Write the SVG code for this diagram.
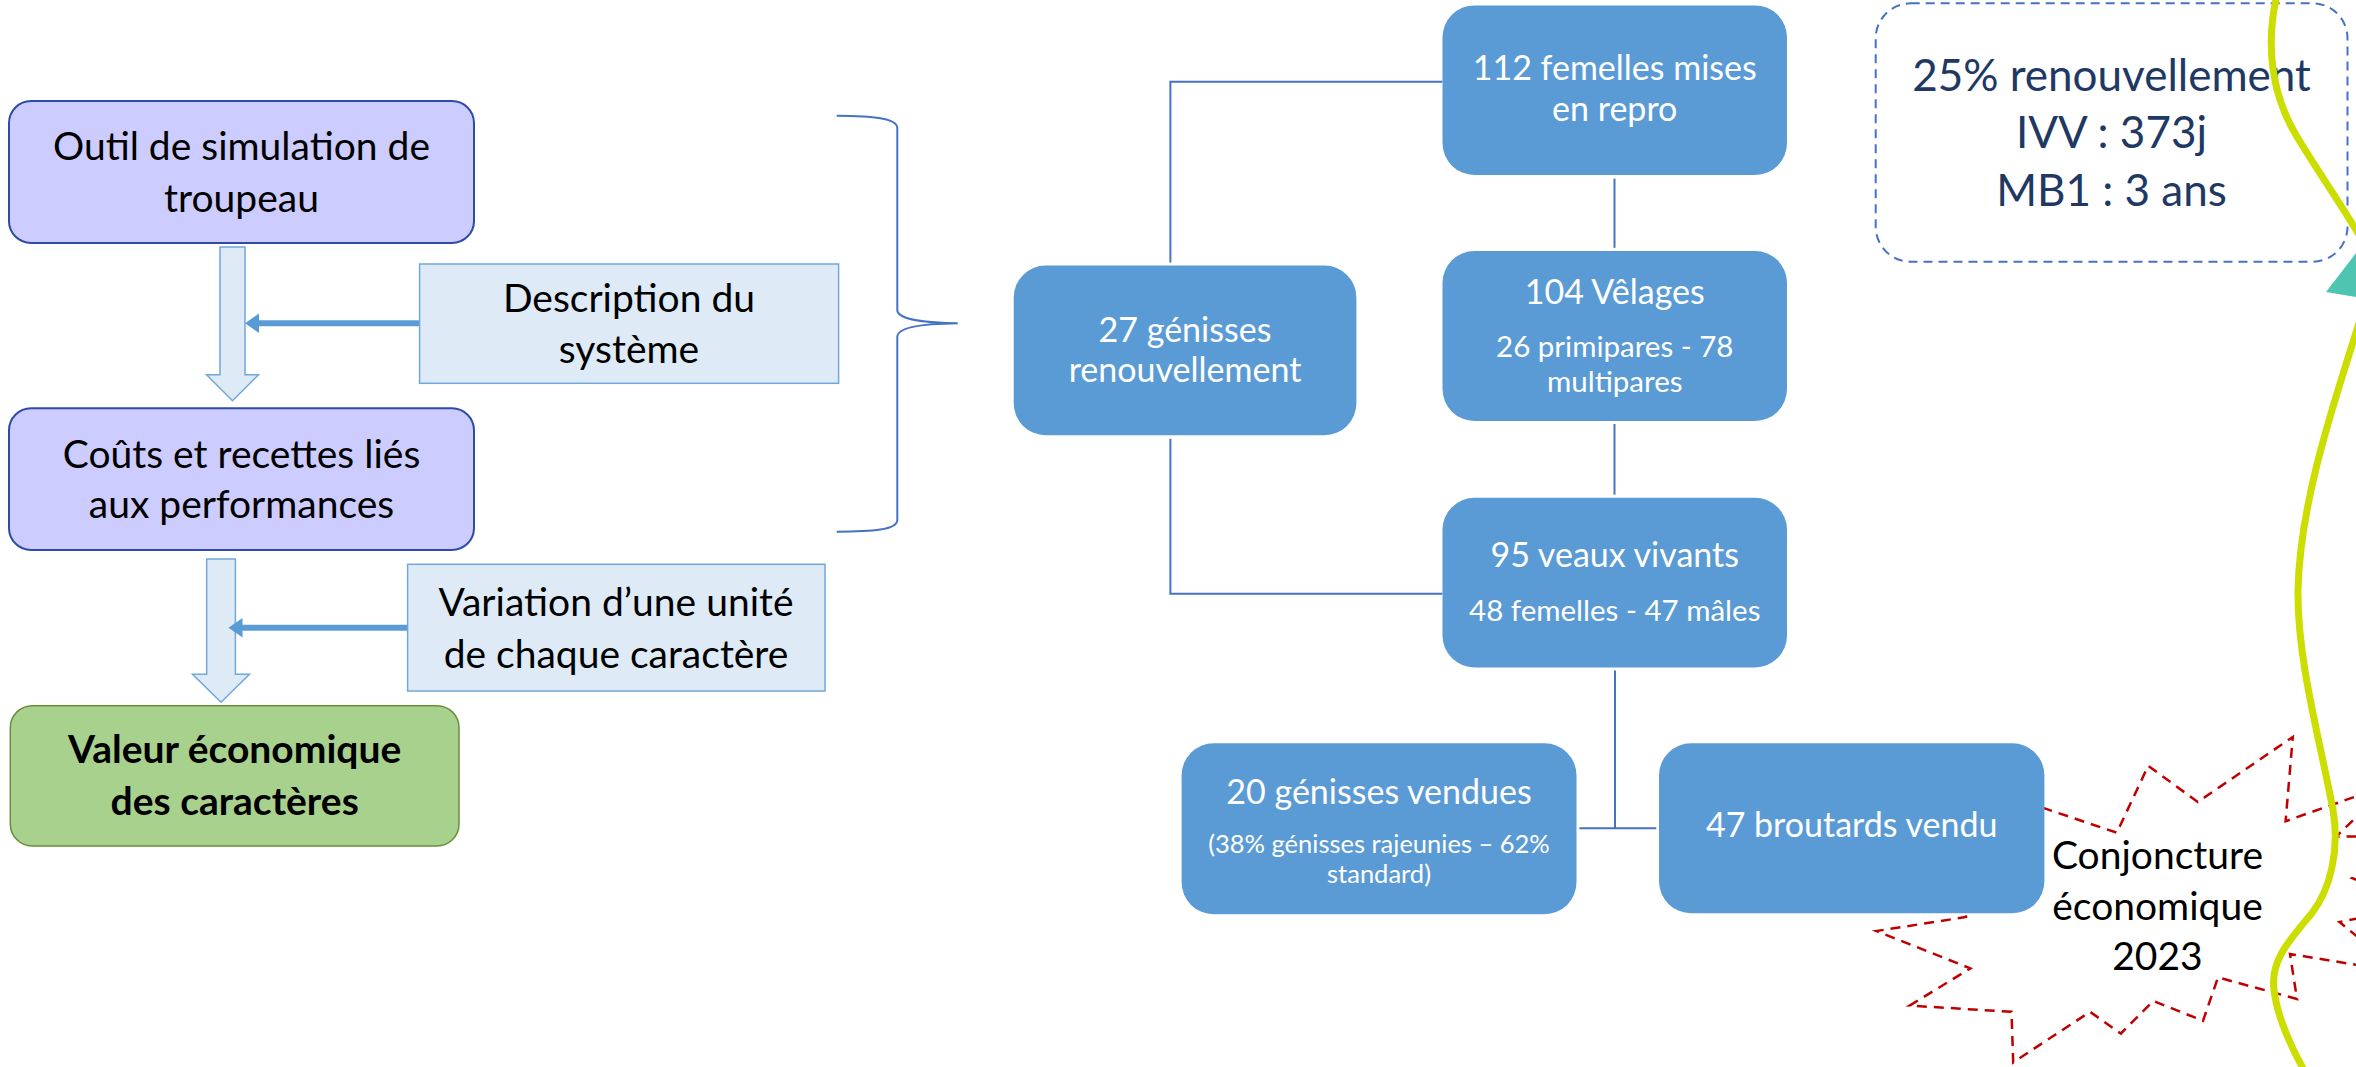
<svg xmlns="http://www.w3.org/2000/svg" width="2356" height="1067" viewBox="0 0 2356 1067">
<style>
text{font-family:Lato,"Liberation Sans",sans-serif;text-anchor:middle}
.lbl{font-size:39px;fill:#000}
.bold{font-weight:bold}
.wt{fill:#fff;font-size:34px}
.ws{fill:#fff;font-size:29.5px}
.wx{fill:#fff;font-size:25.5px}
.proc{fill:#CCCCFF;stroke:#2F4BA8;stroke-width:2}
.info{fill:#DEEBF7;stroke:#6FA8DC;stroke-width:1.5}
.blk{fill:#DEEBF7;stroke:#6FA8DC;stroke-width:1.5}
.bb{fill:#5B9BD5}
.conn{fill:none;stroke:#4472C4;stroke-width:2}
.arr{stroke:#5B9BD5;stroke-width:6}
</style>
<rect width="2356" height="1067" fill="#fff"/>

<!-- background decorations -->
<g id="conjoncture">
<path d="M1978,786 L2116.8,832.7 L2148.2,765.8 L2197.8,802 L2292.8,736.9 L2285.6,821.2 L2391,784 L2336,836.7 L2420,836 L2352,878 L2420,906 L2339.5,922 L2400,972 L2290,954 L2297,999 L2218,977.4 L2203,1020.8 L2153.3,1000.9 L2120.9,1033.5 L2090,1011.8 L2013.2,1062.4 L2011.5,1011.8 L1909.6,1005.6 L1970.4,968.4 L1876.4,931 L1966,917 Z" fill="#fff" stroke="#C00000" stroke-width="2.5" stroke-dasharray="10 7"/>
</g>

<g id="connectors">
<path class="conn" d="M1170.4,262.5 V81.7 H1442.5"/>
<path class="conn" d="M1170.4,438.8 V593.8 H1442.5"/>
<path class="conn" d="M1614.5,178.6 V247.8"/>
<path class="conn" d="M1614.5,424 V494.6"/>
<path class="conn" d="M1615,670.5 V828"/>
<path class="conn" d="M1579.4,828.3 H1656.3"/>
<path class="conn" d="M836.7,115.7 C872,116 897.3,118 897.3,128 L897.3,310 C897.3,320 930,323 957.7,323.3 C930,323.6 897.3,326 897.3,337 L897.3,520 C897.3,530 872,531.7 836.7,531.7" stroke-width="1.8"/>
<polygon class="blk" points="220,247 245,247 245,374.7 258.5,374.7 232.5,400.7 206.5,374.7 220,374.7"/>
<polygon class="blk" points="206.7,559 235.4,559 235.4,674.3 249.5,674.3 221,702.3 192.5,674.3 206.7,674.3"/>
<line class="arr" x1="419.6" y1="323.3" x2="256" y2="323.3"/>
<polygon fill="#5B9BD5" points="245,323.3 259,313.5 259,333.1"/>
<line class="arr" x1="407.6" y1="627.7" x2="240" y2="627.7"/>
<polygon fill="#5B9BD5" points="228.5,627.7 242.5,617.9 242.5,637.5"/>
</g>

<g id="outil">
<rect class="proc" x="9" y="101" width="465" height="142" rx="22"/>
<text class="lbl" x="241.5" y="160">Outil de simulation de</text>
<text class="lbl" x="241.5" y="212">troupeau</text>
</g>
<g id="description">
<rect class="info" x="419.6" y="264" width="419" height="119.3"/>
<text class="lbl" x="629" y="311.7">Description du</text>
<text class="lbl" x="629" y="363">système</text>
</g>
<g id="couts">
<rect class="proc" x="9" y="408.3" width="465" height="141.7" rx="22"/>
<text class="lbl" x="241.5" y="468">Coûts et recettes liés</text>
<text class="lbl" x="241.5" y="518">aux performances</text>
</g>
<g id="variation">
<rect class="info" x="407.6" y="564.3" width="417.4" height="126.7"/>
<text class="lbl" x="616" y="616">Variation d’une unité</text>
<text class="lbl" x="616" y="668">de chaque caractère</text>
</g>
<g id="valeur">
<rect x="10.3" y="705.7" width="448.7" height="140.3" rx="22" fill="#A9D18E" stroke="#6A8F3A" stroke-width="1.5"/>
<text class="lbl bold" x="234.7" y="763">Valeur économique</text>
<text class="lbl bold" x="234.7" y="815">des caractères</text>
</g>

<g id="genisses-renouv">
<rect class="bb" x="1013.7" y="265.6" width="342.7" height="169.7" rx="32"/>
<text class="wt" x="1185" y="341.5">27 génisses</text>
<text class="wt" x="1185" y="381.7">renouvellement</text>
</g>
<g id="femelles">
<rect class="bb" x="1442.5" y="5.4" width="344.5" height="169.6" rx="32"/>
<text class="wt" x="1614.75" y="80.4">112 femelles mises</text>
<text class="wt" x="1614.75" y="120.5">en repro</text>
</g>
<g id="velages">
<rect class="bb" x="1442.5" y="251" width="344.5" height="170" rx="32"/>
<text class="wt" x="1614.75" y="303.6">104 Vêlages</text>
<text class="ws" x="1614.75" y="357">26 primipares - 78</text>
<text class="ws" x="1614.75" y="392">multipares</text>
</g>
<g id="veaux">
<rect class="bb" x="1442.5" y="497.8" width="344.5" height="169.6" rx="32"/>
<text class="wt" x="1614.75" y="567">95 veaux vivants</text>
<text class="ws" x="1614.75" y="620.5">48 femelles - 47 mâles</text>
</g>
<g id="genisses-vendues">
<rect class="bb" x="1181.6" y="743.3" width="394.9" height="171" rx="32"/>
<text class="wt" x="1379" y="804">20 génisses vendues</text>
<text class="wx" x="1379" y="853.3">(38% génisses rajeunies – 62%</text>
<text class="wx" x="1379" y="883.3">standard)</text>
</g>
<g id="broutards">
<rect class="bb" x="1659" y="743.3" width="385.4" height="170" rx="32"/>
<text class="wt" x="1851.7" y="836.7">47 broutards vendu</text>
</g>
<g id="conjoncture-label">
<text class="lbl" x="2157.5" y="869">Conjoncture</text>
<text class="lbl" x="2157.5" y="919.5">économique</text>
<text class="lbl" x="2157.5" y="970">2023</text>
</g>

<g id="parametres">
<rect x="1875.7" y="3.3" width="471.8" height="258.4" rx="35" fill="none" stroke="#4472C4" stroke-width="2" stroke-dasharray="9 6"/>
<text x="2111.5" y="91" font-size="44" fill="#203864">25% renouvellement</text>
<text x="2111.5" y="148.3" font-size="44" fill="#203864">IVV : 373j</text>
<text x="2111.5" y="206" font-size="44" fill="#203864">MB1 : 3 ans</text>
</g>

<g id="courbe">
<path d="M2277,-5 C2265,45 2272,95 2296,135 C2318,172 2342,205 2365,245 C2380,270 2375,300 2360,320 C2335,400 2300,500 2298,590 C2297,660 2320,740 2333,810 C2340,850 2330,890 2312,913 C2290,940 2270,960 2274,990 C2277,1015 2290,1045 2305,1072" fill="none" stroke="#CCDD00" stroke-width="7"/>
<polygon points="2326,292 2380,222 2380,301" fill="#4EC5B0"/>
</g>
</svg>
